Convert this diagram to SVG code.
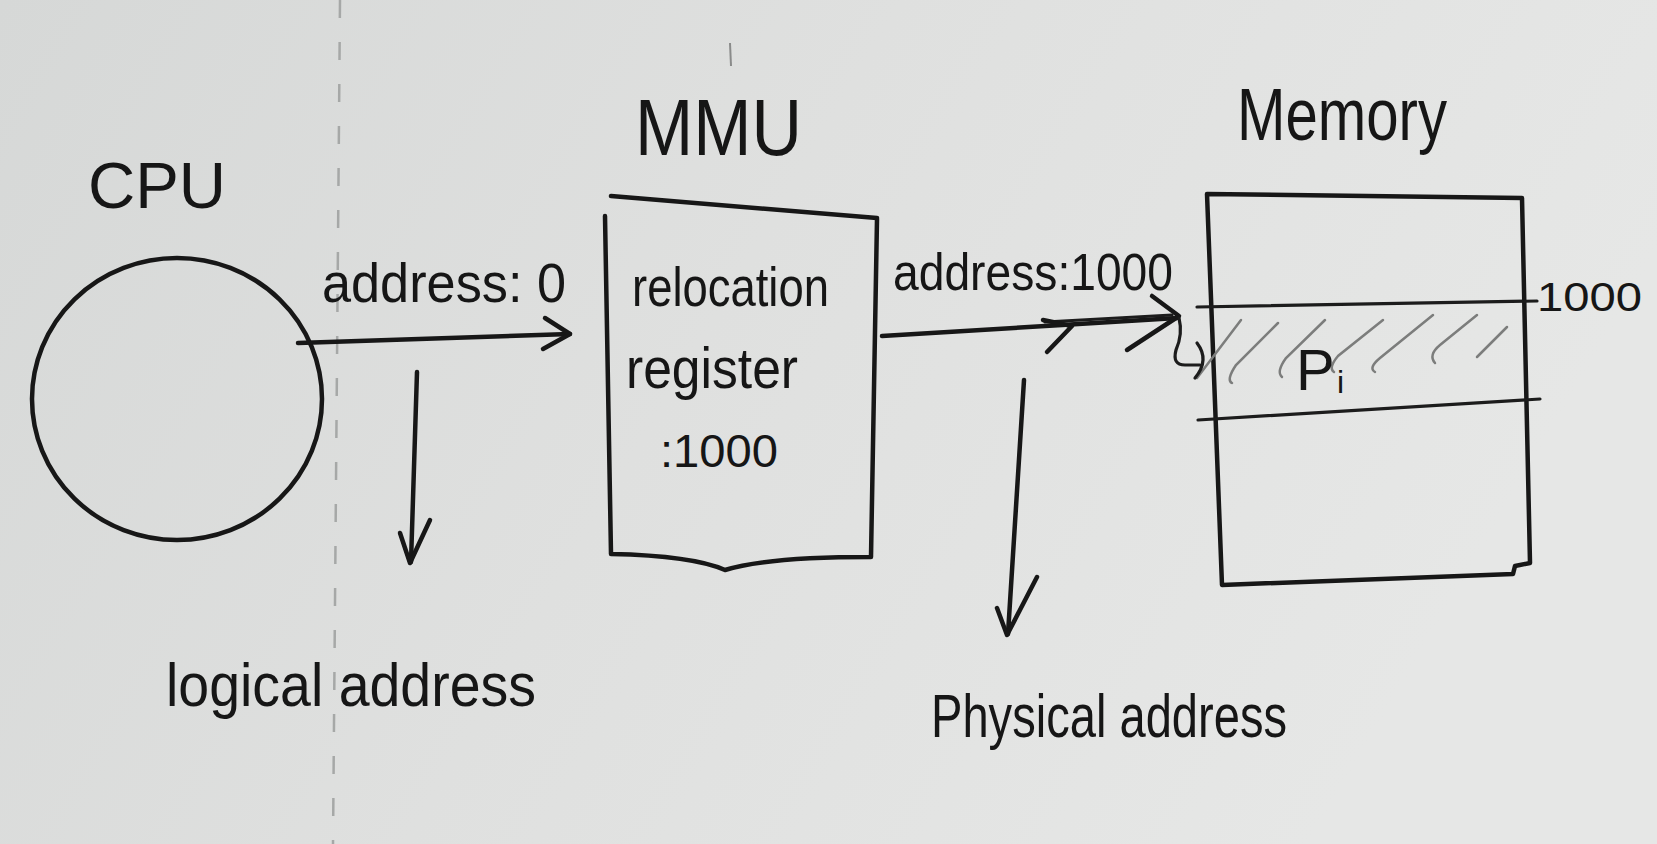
<svg xmlns="http://www.w3.org/2000/svg" width="1657" height="844" viewBox="0 0 1657 844">
  <defs>
    <linearGradient id="paper" x1="0" y1="0" x2="1" y2="0.3">
      <stop offset="0" stop-color="#d6d8d7"/>
      <stop offset="0.5" stop-color="#dfe0df"/>
      <stop offset="1" stop-color="#e6e7e6"/>
    </linearGradient>
  </defs>
  <style>
    .ink { fill: none; stroke: #171717; stroke-width: 4.5; stroke-linecap: round; stroke-linejoin: round; }
    .thin { fill: none; stroke: #1c1c1c; stroke-width: 3.2; stroke-linecap: round; stroke-linejoin: round; }
    .hatch { fill: none; stroke: #7c7d7c; stroke-width: 2.5; stroke-linecap: round; }
    .dash { fill: none; stroke: #a6a8a7; stroke-width: 2.5; stroke-dasharray: 18 24; }
    .t { font-family: "Liberation Sans", "DejaVu Sans", sans-serif; fill: #161616; }
  </style>
  <rect x="0" y="0" width="1657" height="844" fill="url(#paper)"/>
  <path class="dash" d="M340,0 L333,844"/>
  <path d="M730,43 L731,66" fill="none" stroke="#8a8b8a" stroke-width="2"/>

  <g id="cpu">
    <text class="t" x="88" y="208" font-size="64" textLength="138" lengthAdjust="spacingAndGlyphs">CPU</text>
    <ellipse class="ink" cx="177" cy="399" rx="145" ry="141"/>
  </g>

  <g id="mmu">
    <text class="t" x="635" y="155" font-size="80" textLength="167" lengthAdjust="spacingAndGlyphs">MMU</text>
    <path class="ink" d="M611,196 L877,218"/>
    <path class="ink" d="M605,216 L611,554 C660,555 700,559 725,570 C750,562 800,557 871,557 L877,219"/>
    <text class="t" x="632" y="306" font-size="56" textLength="197" lengthAdjust="spacingAndGlyphs">relocation</text>
    <text class="t" x="626" y="388" font-size="58" textLength="172" lengthAdjust="spacingAndGlyphs">register</text>
    <text class="t" x="660" y="467" font-size="46" textLength="118" lengthAdjust="spacingAndGlyphs">:1000</text>
  </g>

  <g id="memory">
    <text class="t" x="1237" y="140" font-size="74" textLength="210" lengthAdjust="spacingAndGlyphs">Memory</text>
    <path class="ink" d="M1207,194 L1522,198 L1530,563 L1515,566 L1513,574 L1222,585 Z"/>
    <path class="thin" d="M1197,307 L1537,301"/>
    <path class="thin" d="M1198,420 L1540,399"/>
    <path class="hatch" d="M1197,378 L1241,320"/>
    <path class="hatch" d="M1232,383 Q1226,380 1236,365 L1278,323"/>
    <path class="hatch" d="M1282,377 Q1276,372 1286,358 L1325,320"/>
    <path class="hatch" d="M1334,372 Q1328,368 1338,356 L1383,320"/>
    <path class="hatch" d="M1375,372 Q1368,368 1380,358 L1433,315"/>
    <path class="hatch" d="M1435,363 Q1428,355 1440,345 L1477,315"/>
    <path class="hatch" d="M1477,357 L1507,327"/>
    <text class="t" x="1296" y="390" font-size="58">P</text>
    <text class="t" x="1337" y="393" font-size="32">i</text>
    <text class="t" x="1537" y="311" font-size="40" textLength="105" lengthAdjust="spacingAndGlyphs" fill="#2a2a2a">1000</text>
  </g>

  <g id="connectors">
    <path class="ink" d="M298,343 L570,334"/>
    <path class="ink" d="M545,318 L570,334 L543,349"/>
    <path class="ink" d="M417,372 L411,562"/>
    <path class="ink" d="M400,533 L410,563 L430,520"/>
    <path class="ink" d="M882,336 L1062,325 L1177,318"/>
    <path class="thin" d="M1045,322 L1172,315"/>
    <path class="ink" d="M1043,320 L1072,326 L1047,352"/>
    <path class="ink" d="M1152,296 L1179,316 L1127,350"/>
    <path class="thin" d="M1179,318 Q1183,334 1176,350 Q1172,365 1185,365 L1200,365"/>
    <path class="thin" d="M1197,343 Q1210,360 1195,378"/>
    <path class="ink" d="M1024,380 L1008,634"/>
    <path class="ink" d="M997,608 L1007,635 L1037,577"/>
  </g>

  <g id="labels">
    <text class="t" x="322" y="302" font-size="56" textLength="244" lengthAdjust="spacingAndGlyphs">address: 0</text>
    <text class="t" x="893" y="290" font-size="52" textLength="280" lengthAdjust="spacingAndGlyphs">address:1000</text>
    <text class="t" x="166" y="706" font-size="62" textLength="370" lengthAdjust="spacingAndGlyphs">logical address</text>
    <text class="t" x="931" y="737" font-size="62" textLength="356" lengthAdjust="spacingAndGlyphs">Physical address</text>
  </g>
</svg>
